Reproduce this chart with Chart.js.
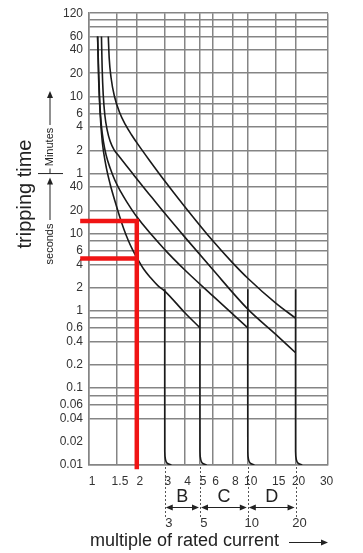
<!DOCTYPE html>
<html>
<head>
<meta charset="utf-8">
<title>MCB tripping characteristic</title>
<script src="https://cdn.jsdelivr.net/npm/chart.js@4.4.0/dist/chart.umd.min.js"></script>
<style>
    html, body { margin: 0; padding: 0; background: #ffffff; }
    #curveChart { display: block; }
</style>
</head>
<body>
<canvas id="curveChart" width="363" height="553"></canvas>
<script>
// x axis: multiple of rated current
const xTicks = [1, 1.5, 2, 3, 4, 5, 6, 8, 10, 15, 20, 30];
const xAxisEnd = 32; // right edge of the grid sits just past the "30" label

// y axis: upper part in minutes, lower part in seconds ('' = grid line only)
const minuteTicks = [120, 100, 80, 60, 40, 20, 10, 8, 6, 4, 2, 1];
const minuteLabels = ['120', '', '', '60', '40', '20', '10', '', '6', '4', '2', '1'];
const secondTicks = [40, 20, 10, 8, 6, 4, 2, 1, 0.8, 0.6, 0.4, 0.2, 0.1, 0.08, 0.06, 0.04, 0.02, 0.01];
const secondLabels = ['40', '20', '10', '', '6', '4', '2', '1', '', '0.6', '0.4', '0.2', '0.1', '', '0.06', '0.04', '0.02', '0.01'];
const unlinedSeconds = [0.02];

// thermal trip curves (multiple of In, seconds)
const curve1X = [1.133, 1.149, 1.174, 1.213, 1.273, 1.358, 1.468, 1.563, 1.661, 1.768, 1.88, 2, 2.214, 2.452, 2.713, 3, 4, 5];
const curve1T = [3600, 1048, 372, 153, 79.6, 44, 25.1, 16.4, 11.3, 8.15, 6.2, 4.9, 3.45, 2.65, 2.12, 1.8, 0.95, 0.6];
const curve2X = [1.133, 1.151, 1.169, 1.195, 1.232, 1.282, 1.358, 1.458, 1.587, 1.729, 2, 3, 4, 6, 10];
const curve2T = [3600, 1216, 500, 260, 157, 104, 70.7, 48.8, 34.7, 25.8, 16.5, 6.2, 3.4, 1.57, 0.6];
const curve3X = [1.198, 1.21, 1.229, 1.259, 1.303, 1.359, 1.439, 1.554, 1.717, 1.923, 2.185, 2.484, 3, 4, 6, 10, 15, 20];
const curve3T = [3600, 1410, 633, 340, 218, 157, 122, 99.4, 76.3, 56.8, 40.8, 29.5, 18.3, 9.07, 3.44, 1.05, 0.494, 0.285];
const curve4X = [1.323, 1.34, 1.377, 1.447, 1.554, 1.692, 1.856, 2.035, 2.38, 3, 4, 6, 8, 10, 15, 20];
const curve4T = [3600, 1896, 1048, 599, 378, 260, 190, 143.5, 91.5, 48.1, 22.5, 8.12, 4.21, 2.64, 1.256, 0.8];

// instantaneous (magnetic) trip lines at 3, 5, 10 and 20 x In
const drop3X = [3, 3, 3.03, 3.1, 3.3];
const drop5X = [5, 5, 5.05, 5.17, 5.5];
const drop10X = [10, 10, 10.1, 10.35, 11];
const drop20X = [20, 20, 20.2, 20.7, 22];
const dropT = [1.9, 0.015, 0.0118, 0.0106, 0.01];

// red reading lines: 2 x In gives about 15 s and 5 s
const readX = [0.88, 2, 2];
const readUpperT = [14.6, 14.6, 0.0088];
const readLowerX = [0.88, 2];
const readLowerT = [4.76, 4.76];

// trip classes below the axis
const bandEdges = [3, 5, 10, 20];
const bandNames = ['B', 'C', 'D'];

const FONT = '"Liberation Sans", Arial, Helvetica, sans-serif';
Chart.defaults.font.family = FONT;

function points(xs, ys) {
    return xs.map((x, i) => ({ x: x, y: ys[i] }));
}

const yTickValues = minuteTicks.map(m => m * 60).concat(secondTicks);
const yTickText = new Map();
minuteTicks.forEach((m, i) => yTickText.set(m * 60, minuteLabels[i]));
secondTicks.forEach((s, i) => yTickText.set(s, secondLabels[i]));

function curveSet(data) {
    return {
        data: data,
        showLine: true,
        borderColor: '#1a1a1a',
        borderWidth: 1.6,
        pointRadius: 0,
        cubicInterpolationMode: 'monotone'
    };
}

function dropSet(xs) {
    return {
        data: points(xs, dropT),
        showLine: true,
        borderColor: '#1a1a1a',
        borderWidth: 1.6,
        pointRadius: 0,
        tension: 0.3
    };
}

function redSet(data) {
    return {
        data: data,
        showLine: true,
        borderColor: '#f01414',
        borderWidth: 4.5,
        borderJoinStyle: 'miter',
        pointRadius: 0,
        clip: false
    };
}

function arrowHead(ctx, x, y, dir) {
    ctx.beginPath();
    if (dir === 'up') {
        ctx.moveTo(x, y); ctx.lineTo(x - 3, y + 7); ctx.lineTo(x + 3, y + 7);
    } else if (dir === 'left') {
        ctx.moveTo(x, y); ctx.lineTo(x + 7, y - 3); ctx.lineTo(x + 7, y + 3);
    } else {
        ctx.moveTo(x, y); ctx.lineTo(x - 7, y - 3); ctx.lineTo(x - 7, y + 3);
    }
    ctx.closePath();
    ctx.fill();
}

function rotatedText(ctx, text, x, y, size) {
    ctx.save();
    ctx.translate(x, y);
    ctx.rotate(-Math.PI / 2);
    ctx.font = size + 'px ' + FONT;
    ctx.textAlign = 'center';
    ctx.textBaseline = 'middle';
    ctx.fillText(text, 0, 0);
    ctx.restore();
}

// axis titles, minute/second markers and the B/C/D ranges
const annotations = {
    id: 'annotations',
    afterDraw(chart) {
        const { ctx } = chart;
        const xs = chart.scales.x;
        const ys = chart.scales.y;
        ctx.save();
        ctx.fillStyle = '#222';
        ctx.strokeStyle = '#222';
        ctx.lineWidth = 1;

        rotatedText(ctx, 'tripping time', 25, 194, 20);

        const ux = 50;
        const yOneMin = ys.getPixelForValue(60);
        ctx.beginPath();
        ctx.moveTo(ux - 12, yOneMin); ctx.lineTo(ux + 13, yOneMin);
        ctx.moveTo(ux, yOneMin - 5); ctx.lineTo(ux, yOneMin);
        ctx.moveTo(ux, 125); ctx.lineTo(ux, 97);
        ctx.moveTo(ux, 220); ctx.lineTo(ux, yOneMin + 9);
        ctx.stroke();
        arrowHead(ctx, ux, 91, 'up');
        arrowHead(ctx, ux, yOneMin + 4, 'up');
        rotatedText(ctx, 'Minutes', ux, 147, 11);
        rotatedText(ctx, 'seconds', ux, 244, 11);

        // dotted class limits
        const base = ys.bottom;
        ctx.strokeStyle = '#555';
        ctx.setLineDash([2, 2]);
        bandEdges.forEach(v => {
            const px = Math.round(xs.getPixelForValue(v)) + 0.5;
            ctx.beginPath();
            ctx.moveTo(px, base + 2);
            ctx.lineTo(px, base + 53);
            ctx.stroke();
        });
        ctx.setLineDash([]);

        // range arrows and letters
        const bandY = 507.5;
        ctx.strokeStyle = '#222';
        ctx.textAlign = 'center';
        ctx.textBaseline = 'middle';
        bandNames.forEach((name, i) => {
            const pa = xs.getPixelForValue(bandEdges[i]) + 1;
            const pb = xs.getPixelForValue(bandEdges[i + 1]) - 1;
            ctx.beginPath();
            ctx.moveTo(pa + 4, bandY);
            ctx.lineTo(pb - 4, bandY);
            ctx.stroke();
            arrowHead(ctx, pa, bandY, 'left');
            arrowHead(ctx, pb, bandY, 'right');
            ctx.font = '18px ' + FONT;
            ctx.fillText(name, (pa + pb) / 2, 497);
        });

        ctx.font = '13px ' + FONT;
        ctx.fillStyle = '#333';
        bandEdges.forEach(v => {
            ctx.fillText(String(v), xs.getPixelForValue(v) + 4, 523);
        });

        // x axis title
        ctx.fillStyle = '#222';
        ctx.textAlign = 'left';
        ctx.font = '18px ' + FONT;
        ctx.fillText('multiple of rated current', 90, 541);
        ctx.beginPath();
        ctx.moveTo(289, 542.5);
        ctx.lineTo(322, 542.5);
        ctx.stroke();
        arrowHead(ctx, 328, 542.5, 'right');
        ctx.restore();
    }
};

const gridColor = '#858585';

const chart = new Chart(document.getElementById('curveChart'), {
    type: 'scatter',
    data: {
        datasets: [
            redSet(points(readX, readUpperT)),
            redSet(points(readLowerX, readLowerT)),
            curveSet(points(curve1X, curve1T)),
            curveSet(points(curve2X, curve2T)),
            curveSet(points(curve3X, curve3T)),
            curveSet(points(curve4X, curve4T)),
            dropSet(drop3X),
            dropSet(drop5X),
            dropSet(drop10X),
            dropSet(drop20X)
        ]
    },
    options: {
        responsive: false,
        animation: false,
        layout: { padding: { top: 10, right: 35, left: 0, bottom: 0 } },
        plugins: {
            legend: { display: false },
            tooltip: { enabled: false }
        },
        scales: {
            x: {
                type: 'logarithmic',
                min: 1,
                max: xAxisEnd,
                afterBuildTicks: scale => {
                    scale.ticks = xTicks.concat([xAxisEnd]).map(v => ({ value: v }));
                },
                afterFit: scale => { scale.height = 88; },
                ticks: {
                    autoSkip: false,
                    maxRotation: 0,
                    padding: 9,
                    labelOffset: 3,
                    color: '#333',
                    font: { size: 12 },
                    callback: value => xTicks.includes(value) ? String(value) : ''
                },
                grid: {
                    // the right edge of the grid stands in for the 30 line
                    color: c => (c.tick && c.tick.value === 30) ? 'rgba(0,0,0,0)' : gridColor,
                    lineWidth: 1.5,
                    drawTicks: false
                },
                border: { color: gridColor, width: 1.5 }
            },
            y: {
                type: 'logarithmic',
                min: 0.01,
                max: 7200,
                afterBuildTicks: scale => {
                    scale.ticks = yTickValues.map(v => ({ value: v }));
                },
                afterFit: scale => { scale.width = 89; },
                ticks: {
                    autoSkip: false,
                    padding: 6,
                    color: '#333',
                    font: { size: 12 },
                    callback: value => yTickText.has(value) ? yTickText.get(value) : ''
                },
                grid: {
                    color: c => (c.tick && unlinedSeconds.includes(c.tick.value)) ? 'rgba(0,0,0,0)' : gridColor,
                    lineWidth: 1.5,
                    drawTicks: false
                },
                border: { color: gridColor, width: 1.5 }
            }
        }
    },
    plugins: [annotations]
});
</script>
</body>
</html>
